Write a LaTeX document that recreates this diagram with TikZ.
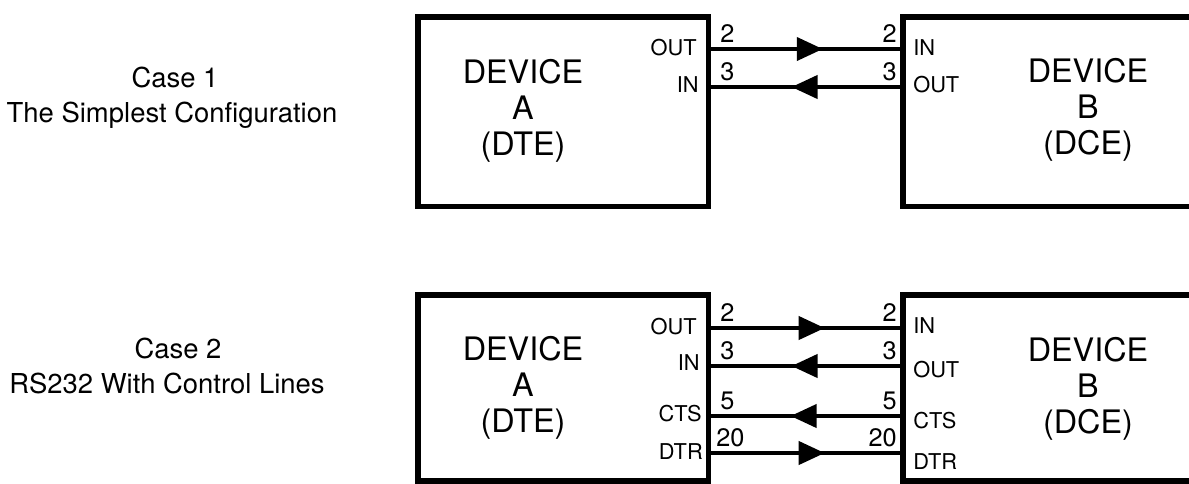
\documentclass[tikz,border=0pt]{standalone}
\usepackage{fontspec}
\setmainfont{TeX Gyre Heros}
\usetikzlibrary{arrows.meta,decorations.markings}

\begin{document}
\begin{tikzpicture}[x=0.025cm, y=-0.025cm,
        devbox/.style={draw, line width=3.8pt, inner sep=0pt},
        wire/.style={line width=2.5pt, decoration={markings,
            mark=at position #1 with {\arrow{Triangle[length=0.65cm,width=0.58cm]}}},
            postaction={decorate}},
        port/.style={inner sep=0pt, font=\fontsize{15.5}{15.5}\selectfont},
        pinno/.style={inner sep=0pt, font=\fontsize{18}{18}\selectfont},
        devtext/.style={align=center, font=\fontsize{23}{25.5}\selectfont},
        casetext/.style={font=\fontsize{19.5}{21}\selectfont}]

        \useasboundingbox (0,0) rectangle (1189,483);
        \clip (0,0) rectangle (1189,483);

        % case 1
        \node[casetext] (case1) at (175,77) {Case 1};
        \node[casetext] (case1sub) at (172,115) {The Simplest Configuration};

        \node[devbox, minimum width=7.2625cm, minimum height=4.7375cm] (devA1) at (563.25,111.75) {};
        \node[devbox, minimum width=8.425cm, minimum height=4.7375cm] (devB1) at (1071.5,111.75) {};
        \node[devtext] (txtA1) at (523,111) {DEVICE\\A\\(DTE)};
        \node[devtext] (txtB1) at (1088,110) {DEVICE\\B\\(DCE)};

        \node[port, anchor=east] (outA1) at (697,48) {OUT};
        \node[port, anchor=east] (inA1) at (699,85) {IN};
        \node[port, anchor=west] (inB1) at (913,48) {IN};
        \node[port, anchor=west] (outB1) at (913,85) {OUT};

        \draw[wire=0.59] (devA1.east |- 0,49) -- (devB1.west |- 0,49);
        \draw[wire=0.575] (devB1.west |- 0,87) -- (devA1.east |- 0,87);

        \node[pinno, anchor=base west] (pA1a) at (720,42) {2};
        \node[pinno, anchor=base west] (pA1b) at (720,80) {3};
        \node[pinno, anchor=base east] (pB1a) at (897,42) {2};
        \node[pinno, anchor=base east] (pB1b) at (897,80) {3};

        % case 2
        \node[casetext] (case2) at (178,348) {Case 2};
        \node[casetext] (case2sub) at (167,383) {RS232 With Control Lines};

        \node[devbox, minimum width=7.2625cm, minimum height=4.65cm] (devA2) at (563.25,388) {};
        \node[devbox, minimum width=8.425cm, minimum height=4.65cm] (devB2) at (1071.5,388) {};
        \node[devtext] (txtA2) at (523,388) {DEVICE\\A\\(DTE)};
        \node[devtext] (txtB2) at (1088,389) {DEVICE\\B\\(DCE)};

        \node[port, anchor=east] (outA2) at (697,327) {OUT};
        \node[port, anchor=east] (inA2) at (700,363) {IN};
        \node[port, anchor=east] (ctsA2) at (702,414) {CTS};
        \node[port, anchor=east] (dtrA2) at (703,452) {DTR};
        \node[port, anchor=west] (inB2) at (913,326) {IN};
        \node[port, anchor=west] (outB2) at (913,370) {OUT};
        \node[port, anchor=west] (ctsB2) at (913,421) {CTS};
        \node[port, anchor=west] (dtrB2) at (913,462) {DTR};

        \draw[wire=0.6] (devA2.east |- 0,328) -- (devB2.west |- 0,328);
        \draw[wire=0.575] (devB2.west |- 0,366) -- (devA2.east |- 0,366);
        \draw[wire=0.58] (devB2.west |- 0,416) -- (devA2.east |- 0,416);
        \draw[wire=0.6] (devA2.east |- 0,453) -- (devB2.west |- 0,453);

        \node[pinno, anchor=base west] (pA2a) at (720,321) {2};
        \node[pinno, anchor=base west] (pA2b) at (720,359) {3};
        \node[pinno, anchor=base west] (pA2c) at (720,409) {5};
        \node[pinno, anchor=base west] (pA2d) at (716,446) {20};
        \node[pinno, anchor=base east] (pB2a) at (897,321) {2};
        \node[pinno, anchor=base east] (pB2b) at (897,359) {3};
        \node[pinno, anchor=base east] (pB2c) at (897,409) {5};
        \node[pinno, anchor=base east] (pB2d) at (897,446) {20};
    \end{tikzpicture}
\end{document}
